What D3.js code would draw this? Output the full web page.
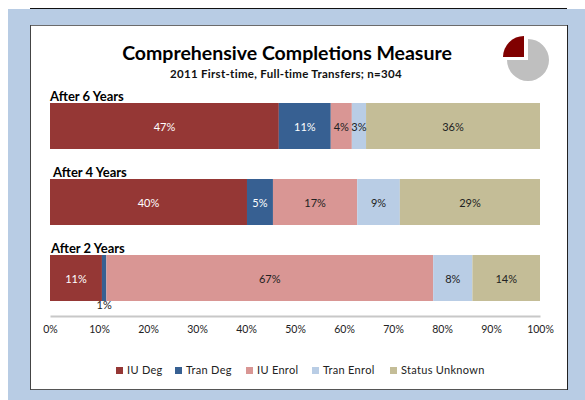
<!DOCTYPE html>
<html><head><meta charset="utf-8">
<script src="https://cdn.jsdelivr.net/npm/d3@7"></script>
<style>html,body{margin:0;padding:0;background:#fff}svg{display:block}text{font-family:Lato,"Open Sans",sans-serif}</style>
</head><body><svg id="c" width="585" height="400"></svg>
<script>
const periods = ["After 6 Years","After 4 Years","After 2 Years"];
const seriesNames = ["IU Deg","Tran Deg","IU Enrol","Tran Enrol","Status Unknown"];
const iuDeg = [46.7,40.2,10.6];
const tranDeg = [10.6,5.3,0.9];
const iuEnrol = [4.3,17.2,66.7];
const tranEnrol = [2.9,8.7,8.0];
const statusUnknown = [35.5,28.6,13.8];
const seriesColors = ["#953735","#376092","#D99694","#B9CDE5","#C4BD97"];
const labelColors = ["#fff","#fff","#222","#222","#222"];
const xTicks = [0,10,20,30,40,50,60,70,80,90,100];
const pieValues = [25,75];
const pieColors = ["#800000","#BFBFBF"];
const title = "Comprehensive Completions Measure";
const subtitle = "2011 First-time, Full-time Transfers; n=304";

const seriesValues = [iuDeg,tranDeg,iuEnrol,tranEnrol,statusUnknown];
const svg = d3.select("#c");
svg.append("rect").attr("x",8).attr("y",9).attr("width",577).attr("height",391).attr("fill","#B8CCE4");
svg.append("line").attr("x1",30).attr("x2",567).attr("y1",8.5).attr("y2",8.5).attr("stroke","#111").attr("stroke-width",1);
svg.append("rect").attr("x",30).attr("y",25).attr("width",538).attr("height",364).attr("fill","#fff");
// card edges
svg.append("line").attr("x1",30).attr("x2",568).attr("y1",25.5).attr("y2",25.5).attr("stroke","#6b6b6b");
svg.append("line").attr("x1",30).attr("x2",568).attr("y1",389.5).attr("y2",389.5).attr("stroke","#555");
svg.append("line").attr("x1",30.5).attr("x2",30.5).attr("y1",25).attr("y2",390).attr("stroke","#444");
svg.append("line").attr("x1",567.5).attr("x2",567.5).attr("y1",25).attr("y2",390).attr("stroke","#222");

svg.append("text").attr("x",287).attr("y",60).attr("text-anchor","middle").attr("font-size",19.5).attr("font-weight",700).attr("fill","#000").text(title);
svg.append("text").attr("x",286).attr("y",78).attr("text-anchor","middle").attr("font-size",11.5).attr("letter-spacing",0.3).attr("font-weight",700).attr("fill","#111").text(subtitle);

const x = d3.scaleLinear().domain([0,100]).range([50,540]);
const y = d3.scalePoint().domain(periods).range([126,278]);
const barH = 46;
const labelDx = {"After 6 Years":0,"After 4 Years":3,"After 2 Years":1};

periods.forEach((p,i)=>{
  const vals = seriesValues.map(s=>s[i]);
  let cum = 0;
  const segs = vals.map((v,j)=>{const s={v,j,x0:cum,x1:cum+v};cum+=v;return s;});
  const g = svg.append("g");
  g.selectAll("rect").data(segs).join("rect")
    .attr("x",d=>x(d.x0)).attr("width",d=>x(d.x1)-x(d.x0))
    .attr("y",y(p)-barH/2).attr("height",barH)
    .attr("fill",d=>seriesColors[d.j]);
  g.selectAll("text.v").data(segs).join("text").attr("class","v")
    .attr("x",d=>x((d.x0+d.x1)/2))
    .attr("y",d=>d.v<1.5 ? y(p)+barH/2+4 : y(p)+1)
    .attr("dy","0.35em").attr("text-anchor","middle").attr("font-size",11)
    .attr("fill",d=>d.v<1.5?"#222":labelColors[d.j])
    .text(d=>Math.round(d.v)+"%");
  svg.append("text").attr("x",50+labelDx[p]).attr("y",y(p)-barH/2-2).attr("font-size",13).attr("font-weight",700).attr("fill","#000").text(p);
});

// axis
const axis = svg.append("g").attr("transform","translate(0,316)")
  .call(d3.axisBottom(x).tickValues(xTicks).tickFormat(d=>d+"%").tickSize(0).tickPadding(10));
axis.select(".domain").attr("stroke","#C8C8C8").attr("stroke-width",2);
axis.selectAll("text").attr("font-size",10.5).attr("fill","#222").attr("font-family","Lato,sans-serif");

// legend
const legendX = [116,175,246,312,390];
const legend = svg.append("g");
seriesNames.forEach((n,i)=>{
  const lg = legend.append("g").attr("transform",`translate(${legendX[i]},367)`);
  lg.append("rect").attr("width",7).attr("height",7).attr("fill",seriesColors[i]);
  lg.append("text").attr("x",11).attr("y",3.5).attr("dy","0.35em").attr("font-size",11).attr("letter-spacing",0.3).attr("fill","#222").text(n);
});

// pie
const pie = d3.pie().sort(null).startAngle(-Math.PI/2).endAngle(1.5*Math.PI)(pieValues);
const arc = d3.arc().innerRadius(0).outerRadius(21);
svg.append("g").attr("transform","translate(528,60)").selectAll("path").data(pie).join("path")
  .attr("d",arc).attr("fill",(d,i)=>pieColors[i])
  .attr("transform",(d,i)=>i===0?"translate(-4,-3)":null);
</script></body></html>
